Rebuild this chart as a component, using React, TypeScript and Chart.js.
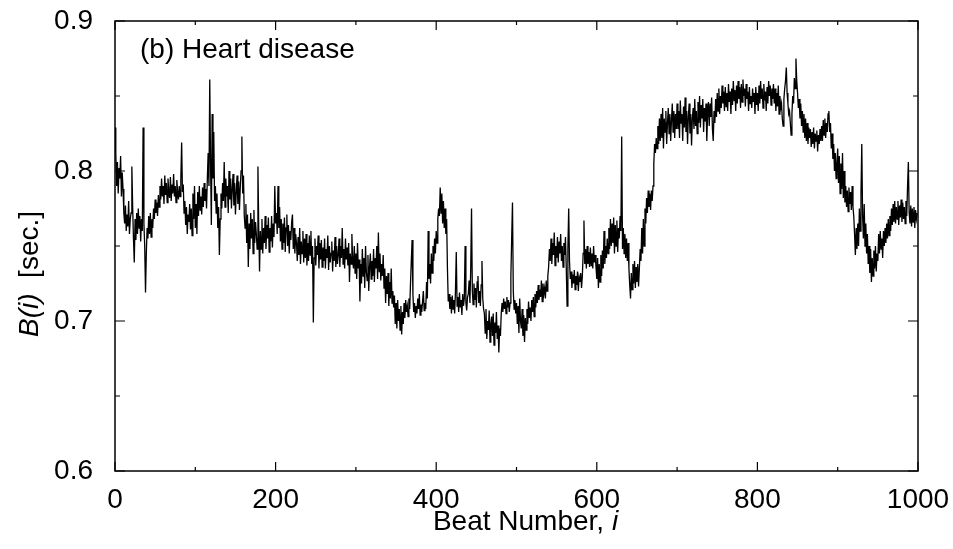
import React, { useEffect, useRef } from "react";
import { Chart, registerables } from "chart.js";

Chart.register(...registerables);

// Beat-to-beat interval B(i) in seconds, one reading per beat (i = 0 .. 999)
const SAMPLE_STEP = 1;
const intervalsSec = [
  0.829, 0.812, 0.79, 0.806, 0.785, 0.802, 0.795, 0.81, 0.783, 0.799, 0.788, 0.772, 0.765, 0.777, 0.76, 0.771, 0.763, 0.78, 0.758, 0.768,
  0.772, 0.803, 0.776, 0.755, 0.739, 0.768, 0.754, 0.772, 0.758, 0.775, 0.762, 0.77, 0.753, 0.768, 0.76, 0.829, 0.765, 0.75, 0.719, 0.745,
  0.762, 0.755, 0.77, 0.758, 0.772, 0.756, 0.768, 0.762, 0.775, 0.768, 0.781, 0.772, 0.779, 0.77, 0.784, 0.776, 0.79, 0.781, 0.795, 0.783,
  0.79, 0.778, 0.797, 0.784, 0.792, 0.779, 0.795, 0.786, 0.782, 0.796, 0.78, 0.791, 0.785, 0.798, 0.783, 0.79, 0.779, 0.794, 0.786, 0.781,
  0.79, 0.783, 0.795, 0.819, 0.786, 0.791, 0.772, 0.78, 0.764, 0.776, 0.758, 0.771, 0.766, 0.778, 0.761, 0.775, 0.757, 0.785, 0.768, 0.79,
  0.762, 0.778, 0.758, 0.786, 0.77, 0.79, 0.774, 0.783, 0.771, 0.789, 0.776, 0.792, 0.78, 0.788, 0.775, 0.795, 0.812, 0.79, 0.861, 0.805,
  0.764, 0.838, 0.795, 0.826, 0.78, 0.79, 0.772, 0.785, 0.762, 0.776, 0.744, 0.768, 0.785, 0.775, 0.792, 0.78, 0.806, 0.776, 0.795, 0.783,
  0.79, 0.772, 0.8, 0.781, 0.795, 0.775, 0.788, 0.798, 0.777, 0.792, 0.771, 0.786, 0.797, 0.778, 0.793, 0.774, 0.789, 0.8, 0.823, 0.785,
  0.797, 0.77, 0.762, 0.778, 0.752, 0.771, 0.736, 0.765, 0.748, 0.772, 0.755, 0.768, 0.745, 0.774, 0.752, 0.766, 0.758, 0.748, 0.803, 0.762,
  0.733, 0.76, 0.748, 0.768, 0.745, 0.762, 0.752, 0.77, 0.748, 0.764, 0.755, 0.769, 0.746, 0.762, 0.753, 0.77, 0.749, 0.765, 0.756, 0.79,
  0.765, 0.772, 0.758, 0.79, 0.762, 0.776, 0.753, 0.768, 0.748, 0.765, 0.752, 0.769, 0.746, 0.762, 0.771, 0.75, 0.764, 0.745, 0.76, 0.754,
  0.766, 0.771, 0.748, 0.762, 0.745, 0.758, 0.752, 0.74, 0.756, 0.744, 0.762, 0.738, 0.753, 0.745, 0.76, 0.739, 0.755, 0.742, 0.758, 0.737,
  0.752, 0.74, 0.757, 0.744, 0.76, 0.738, 0.75, 0.699, 0.742, 0.755, 0.737, 0.75, 0.744, 0.757, 0.735, 0.752, 0.741, 0.754, 0.736, 0.749,
  0.74, 0.755, 0.735, 0.748, 0.742, 0.757, 0.734, 0.75, 0.739, 0.745, 0.753, 0.733, 0.747, 0.74, 0.756, 0.736, 0.75, 0.738, 0.744, 0.755,
  0.736, 0.75, 0.742, 0.762, 0.738, 0.748, 0.735, 0.755, 0.741, 0.749, 0.737, 0.752, 0.726, 0.745, 0.738, 0.758, 0.74, 0.735, 0.75, 0.732,
  0.745, 0.728, 0.752, 0.735, 0.741, 0.713, 0.738, 0.725, 0.748, 0.73, 0.742, 0.722, 0.75, 0.733, 0.727, 0.744, 0.72, 0.736, 0.745, 0.728,
  0.74, 0.73, 0.748, 0.726, 0.742, 0.735, 0.75, 0.728, 0.759, 0.733, 0.745, 0.727, 0.738, 0.73, 0.744, 0.722, 0.735, 0.712, 0.73, 0.718,
  0.732, 0.71, 0.726, 0.715, 0.735, 0.712, 0.72, 0.709, 0.717, 0.698, 0.712, 0.695, 0.714, 0.7, 0.708, 0.694, 0.71, 0.691, 0.706, 0.698,
  0.712, 0.702, 0.714, 0.706, 0.71, 0.703, 0.715, 0.708, 0.725, 0.74, 0.754, 0.718, 0.706, 0.712, 0.702, 0.71, 0.705, 0.715, 0.708, 0.718,
  0.704, 0.711, 0.706, 0.713, 0.72, 0.707, 0.712, 0.708, 0.726, 0.715, 0.76, 0.728, 0.738, 0.725, 0.745, 0.732, 0.75, 0.74, 0.755, 0.745,
  0.76, 0.752, 0.768, 0.775, 0.77, 0.789, 0.772, 0.785, 0.765, 0.78, 0.762, 0.775, 0.758, 0.768, 0.735, 0.713, 0.718, 0.708, 0.716, 0.705,
  0.717, 0.708, 0.714, 0.705, 0.72, 0.746, 0.71, 0.716, 0.706, 0.719, 0.709, 0.714, 0.704, 0.718, 0.71, 0.715, 0.75, 0.712, 0.707, 0.716,
  0.718, 0.727, 0.712, 0.735, 0.775, 0.72, 0.711, 0.725, 0.714, 0.722, 0.709, 0.726, 0.73, 0.712, 0.72, 0.71, 0.724, 0.74, 0.715, 0.708,
  0.705, 0.692, 0.708, 0.688, 0.7, 0.694, 0.707, 0.686, 0.698, 0.703, 0.69, 0.705, 0.684, 0.699, 0.692, 0.706, 0.688, 0.697, 0.679, 0.695,
  0.69, 0.705, 0.712, 0.706, 0.715, 0.708, 0.713, 0.705, 0.716, 0.709, 0.714, 0.706, 0.712, 0.73, 0.755, 0.779, 0.72, 0.708, 0.714, 0.705,
  0.712, 0.698, 0.71, 0.692, 0.715, 0.7, 0.695, 0.708, 0.69, 0.704, 0.686, 0.702, 0.694, 0.708, 0.698, 0.713, 0.702, 0.709, 0.7, 0.714,
  0.706, 0.716, 0.703, 0.718, 0.709, 0.72, 0.712, 0.724, 0.714, 0.721, 0.716, 0.727, 0.713, 0.725, 0.718, 0.722, 0.715, 0.727, 0.72, 0.73,
  0.736, 0.748, 0.74, 0.755, 0.738, 0.752, 0.744, 0.759, 0.737, 0.75, 0.742, 0.756, 0.739, 0.753, 0.745, 0.758, 0.74, 0.75, 0.736, 0.752,
  0.744, 0.756, 0.735, 0.71, 0.748, 0.775, 0.74, 0.728, 0.733, 0.722, 0.731, 0.725, 0.734, 0.721, 0.73, 0.724, 0.733, 0.72, 0.729, 0.726,
  0.732, 0.722, 0.73, 0.745, 0.767, 0.738, 0.748, 0.735, 0.75, 0.738, 0.746, 0.736, 0.749, 0.737, 0.745, 0.735, 0.75, 0.739, 0.744, 0.736,
  0.728, 0.742, 0.722, 0.738, 0.726, 0.744, 0.73, 0.747, 0.735, 0.76, 0.738, 0.75, 0.742, 0.755, 0.745, 0.762, 0.748, 0.768, 0.75, 0.765,
  0.752, 0.769, 0.745, 0.764, 0.75, 0.767, 0.746, 0.762, 0.755, 0.77, 0.76, 0.823, 0.748, 0.762, 0.745, 0.758, 0.742, 0.755, 0.74, 0.752,
  0.735, 0.724, 0.715, 0.732, 0.721, 0.738, 0.725, 0.74, 0.722, 0.736, 0.726, 0.738, 0.723, 0.735, 0.748, 0.74, 0.762, 0.745, 0.768, 0.75,
  0.775, 0.765, 0.782, 0.772, 0.787, 0.776, 0.785, 0.774, 0.787, 0.78, 0.79, 0.805, 0.818, 0.812, 0.822, 0.815, 0.83, 0.818, 0.835, 0.82,
  0.838, 0.822, 0.842, 0.815, 0.835, 0.826, 0.84, 0.818, 0.832, 0.842, 0.825, 0.838, 0.82, 0.834, 0.845, 0.826, 0.84, 0.822, 0.838, 0.828,
  0.845, 0.828, 0.84, 0.822, 0.847, 0.832, 0.838, 0.82, 0.843, 0.829, 0.849, 0.826, 0.84, 0.818, 0.836, 0.845, 0.825, 0.838, 0.817, 0.835,
  0.842, 0.828, 0.848, 0.83, 0.84, 0.825, 0.846, 0.832, 0.85, 0.829, 0.844, 0.835, 0.848, 0.826, 0.842, 0.833, 0.845, 0.82, 0.838, 0.846,
  0.83, 0.845, 0.836, 0.849, 0.828, 0.82, 0.84, 0.832, 0.848, 0.836, 0.852, 0.84, 0.855, 0.838, 0.85, 0.842, 0.857, 0.845, 0.853, 0.84,
  0.856, 0.843, 0.852, 0.84, 0.858, 0.846, 0.853, 0.838, 0.855, 0.844, 0.86, 0.847, 0.854, 0.84, 0.857, 0.845, 0.86, 0.848, 0.856, 0.842,
  0.858, 0.846, 0.861, 0.85, 0.855, 0.843, 0.858, 0.848, 0.853, 0.84, 0.856, 0.845, 0.85, 0.842, 0.855, 0.846, 0.852, 0.838, 0.856, 0.844,
  0.852, 0.84, 0.857, 0.845, 0.86, 0.848, 0.855, 0.842, 0.858, 0.847, 0.853, 0.84, 0.856, 0.845, 0.86, 0.85, 0.857, 0.844, 0.855, 0.848,
  0.858, 0.845, 0.855, 0.84, 0.852, 0.843, 0.857, 0.838, 0.85, 0.842, 0.845, 0.835, 0.83, 0.848, 0.855, 0.86, 0.869, 0.852, 0.845, 0.838,
  0.84, 0.832, 0.824, 0.838, 0.85, 0.845, 0.862, 0.855, 0.875, 0.86, 0.852, 0.842, 0.848, 0.835, 0.845, 0.83, 0.84, 0.826, 0.838, 0.822,
  0.835, 0.82, 0.832, 0.818, 0.829, 0.822, 0.828, 0.816, 0.826, 0.818, 0.829, 0.815, 0.825, 0.82, 0.827, 0.813, 0.824, 0.818, 0.828, 0.82,
  0.83, 0.82, 0.834, 0.824, 0.835, 0.822, 0.832, 0.826, 0.838, 0.84, 0.826, 0.832, 0.815, 0.825, 0.808, 0.818, 0.8, 0.812, 0.795, 0.805,
  0.815, 0.792, 0.81, 0.785, 0.805, 0.788, 0.812, 0.782, 0.8, 0.779, 0.79, 0.776, 0.787, 0.773, 0.789, 0.778, 0.786, 0.774, 0.79, 0.776,
  0.77, 0.758, 0.744, 0.762, 0.748, 0.765, 0.75, 0.775, 0.76, 0.785, 0.818, 0.77, 0.755, 0.778, 0.75, 0.765, 0.745, 0.758, 0.738, 0.75,
  0.732, 0.748, 0.726, 0.742, 0.73, 0.747, 0.735, 0.75, 0.733, 0.745, 0.74, 0.758, 0.745, 0.76, 0.748, 0.755, 0.742, 0.76, 0.75, 0.762,
  0.752, 0.765, 0.755, 0.768, 0.757, 0.77, 0.76, 0.775, 0.764, 0.778, 0.766, 0.78, 0.765, 0.776, 0.768, 0.78, 0.764, 0.777, 0.769, 0.781,
  0.766, 0.779, 0.768, 0.776, 0.765, 0.78, 0.77, 0.79, 0.806, 0.772, 0.765, 0.777, 0.763, 0.775, 0.766, 0.776, 0.762, 0.774, 0.768, 0.772,
];

const xMajorTicks = [0, 200, 400, 600, 800, 1000];
const xMinorTicks = [100, 300, 500, 700, 900];
const yMajorTicks = [0.6, 0.7, 0.8, 0.9];
const yMinorTicks = [0.65, 0.75, 0.85];

const panelLabel = "(b) Heart disease";
const xTitleParts = ["Beat Number, ", "i"];
const yTitleParts = ["B(i)", "  [sec.]"];

const FONT = "'Liberation Sans', Arial, Helvetica, sans-serif";
const FONT_SIZE = 28;

const framePlugin = {
  id: "framePlugin",
  afterDraw(chart: any) {
    const ctx = chart.ctx as CanvasRenderingContext2D;
    const { left, right, top, bottom } = chart.chartArea;
    const xs = chart.scales.x;
    const ys = chart.scales.y;
    ctx.save();
    ctx.strokeStyle = "#000";
    ctx.lineWidth = 1.5;
    ctx.strokeRect(left, top, right - left, bottom - top);

    ctx.lineWidth = 1.2;
    ctx.beginPath();
    const xt = (vals: number[], len: number) => {
      vals.forEach((v) => {
        const px = xs.getPixelForValue(v);
        ctx.moveTo(px, bottom);
        ctx.lineTo(px, bottom - len);
        ctx.moveTo(px, top);
        ctx.lineTo(px, top + len);
      });
    };
    const yt = (vals: number[], len: number) => {
      vals.forEach((v) => {
        const py = ys.getPixelForValue(v);
        ctx.moveTo(left, py);
        ctx.lineTo(left + len, py);
        ctx.moveTo(right, py);
        ctx.lineTo(right - len, py);
      });
    };
    xt(xMajorTicks, 9);
    xt(xMinorTicks, 4);
    yt(yMajorTicks, 10);
    yt(yMinorTicks, 5);
    ctx.stroke();

    ctx.fillStyle = "#000";
    ctx.textBaseline = "middle";

    const normalFont = `${FONT_SIZE}px ${FONT}`;
    const italicFont = `italic ${FONT_SIZE}px ${FONT}`;

    // panel label
    ctx.font = normalFont;
    ctx.textAlign = "left";
    ctx.fillText(panelLabel, left + 25, top + 29);

    // x title
    ctx.font = normalFont;
    const w1 = ctx.measureText(xTitleParts[0]).width;
    ctx.font = italicFont;
    const w2 = ctx.measureText(xTitleParts[1]).width;
    const xc = (left + right) / 2 + 9;
    const x0 = xc - (w1 + w2) / 2;
    ctx.font = normalFont;
    ctx.fillText(xTitleParts[0], x0, 522);
    ctx.font = italicFont;
    ctx.fillText(xTitleParts[1], x0 + w1, 522);

    // y title (rotated)
    ctx.save();
    ctx.translate(30, 274);
    ctx.rotate(-Math.PI / 2);
    ctx.font = italicFont;
    const v1 = ctx.measureText(yTitleParts[0]).width;
    ctx.font = normalFont;
    const v2 = ctx.measureText(yTitleParts[1]).width;
    const s0 = -(v1 + v2) / 2;
    ctx.font = italicFont;
    ctx.fillText(yTitleParts[0], s0, 0);
    ctx.font = normalFont;
    ctx.fillText(yTitleParts[1], s0 + v1, 0);
    ctx.restore();

    ctx.restore();
  },
};

export default function App() {
  const canvasRef = useRef<HTMLCanvasElement | null>(null);

  useEffect(() => {
    if (!canvasRef.current) return;
    const points = intervalsSec.map((v, k) => ({ x: k * SAMPLE_STEP, y: v }));
    const chart = new Chart(canvasRef.current, {
      type: "line",
      data: {
        datasets: [
          {
            data: points,
            borderColor: "#000",
            borderWidth: 1.3,
            pointRadius: 0,
            tension: 0,
            fill: false,
          },
        ],
      },
      options: {
        responsive: false,
        animation: false,
        events: [],
        layout: { padding: { left: 0, right: 35, top: 21, bottom: 0 } },
        plugins: {
          legend: { display: false },
          tooltip: { enabled: false },
          title: { display: false },
        },
        scales: {
          x: {
            type: "linear",
            min: 0,
            max: 1000,
            afterBuildTicks: (scale: any) => {
              scale.ticks = xMajorTicks.map((v) => ({ value: v }));
            },
            afterFit: (scale: any) => {
              scale.height = 78;
              scale.paddingLeft = 0;
              scale.paddingRight = 0;
            },
            grid: { display: false, drawTicks: false },
            border: { display: false },
            ticks: {
              color: "#000",
              padding: 12,
              maxRotation: 0,
              autoSkip: false,
              font: { family: FONT, size: FONT_SIZE },
              callback: (v: any) => String(v),
            },
          },
          y: {
            type: "linear",
            min: 0.6,
            max: 0.9,
            afterBuildTicks: (scale: any) => {
              scale.ticks = yMajorTicks.map((v) => ({ value: v }));
            },
            afterFit: (scale: any) => {
              scale.width = 115;
              scale.paddingTop = 0;
              scale.paddingBottom = 0;
            },
            grid: { display: false, drawTicks: false },
            border: { display: false },
            ticks: {
              color: "#000",
              padding: 22,
              autoSkip: false,
              font: { family: FONT, size: FONT_SIZE },
              callback: (v: any) => Number(v).toFixed(1),
            },
          },
        },
      },
      plugins: [framePlugin],
    });
    return () => chart.destroy();
  }, []);

  return (
    <div
      style={{
        position: "absolute",
        left: 0,
        top: 0,
        width: 953,
        height: 549,
        background: "#fff",
      }}
    >
      <canvas
        ref={canvasRef}
        width={953}
        height={549}
        style={{ display: "block", width: 953, height: 549 }}
      />
    </div>
  );
}
